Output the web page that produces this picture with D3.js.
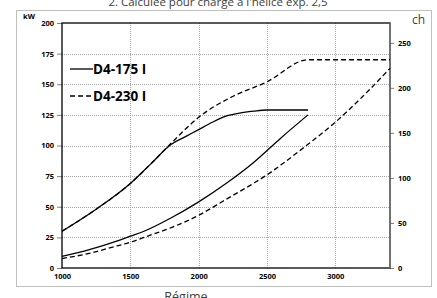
<!DOCTYPE html>
<html>
<head>
<meta charset="utf-8">
<script src="https://cdn.jsdelivr.net/npm/d3@7"></script>
<style>
body { margin: 0; background: #fff; }
svg { display: block; }
text { font-family: "Open Sans", sans-serif; }
</style>
</head>
<body>
<div id="chart"></div>
<script>
// values (rpm -> kW)
const seriesNames = ["D4-175 I", "D4-230 I"];

const maxRpm175 = [1000, 1250, 1500, 1650, 1800, 1900, 2000, 2100, 2200, 2300, 2400, 2500, 2600, 2800];
const maxKw175  = [30, 48, 69, 85, 101, 107, 113, 119, 124, 126.5, 128, 129, 129, 129];

const maxRpm230 = [1000, 1250, 1500, 1650, 1800, 1900, 2000, 2230, 2500, 2800, 3400];
const maxKw230  = [30, 48, 69, 85, 102, 113, 123, 139, 152, 170, 170];

const propRpm175 = [1000, 1200, 1400, 1500, 1600, 1800, 2000, 2200, 2400, 2600, 2800];
const propKw175  = [9.5, 15, 22, 26, 30, 41, 54, 69, 86, 106, 125];

const propRpm230 = [1000, 1200, 1400, 1500, 1600, 1800, 2000, 2200, 2400, 2500, 2600, 2800, 3000, 3200, 3400];
const propKw230  = [7.7, 12, 18, 21, 25, 33, 43, 56, 69, 76, 84, 101, 119, 140, 163];

const xTicks = [1000, 1500, 2000, 2500, 3000];
const kwTicks = [0, 25, 50, 75, 100, 125, 150, 175, 200];
const chTicks = [0, 50, 100, 150, 200, 250];

const W = 437, H = 298;
const margin = { top: 23, right: 47, bottom: 30, left: 62 };
const width = W - margin.left - margin.right,
      height = H - margin.top - margin.bottom;

const root = d3.select("#chart").append("svg")
  .attr("width", W).attr("height", H);

// chart area border
root.append("rect")
  .attr("x", 16.5).attr("y", 10.5)
  .attr("width", 415).attr("height", 276)
  .attr("fill", "none").attr("stroke", "#bfbfbf");

root.append("text")
  .attr("x", 218).attr("y", 6)
  .attr("text-anchor", "middle")
  .attr("font-size", 11.5).attr("fill", "#404040")
  .text("2. Calculée pour charge à l'hélice exp. 2,5");

const svg = root.append("g")
  .attr("transform", `translate(${margin.left},${margin.top})`);

const x = d3.scaleLinear().domain([1000, 3400]).range([0, width]);
const y = d3.scaleLinear().domain([0, 200]).range([height, 0]);
const yCh = d3.scaleLinear().domain([0, 272]).range([height, 0]);

// gridlines
svg.append("g").selectAll("line")
  .data(xTicks.slice(1))
  .enter().append("line")
  .attr("x1", d => Math.round(x(d)) + 0.5).attr("x2", d => Math.round(x(d)) + 0.5)
  .attr("y1", 0).attr("y2", height)
  .attr("stroke", "#a6a6a6").attr("stroke-dasharray", "1,1");

svg.append("g").selectAll("line")
  .data(kwTicks.slice(1, -1))
  .enter().append("line")
  .attr("x1", 0).attr("x2", width)
  .attr("y1", d => Math.round(y(d)) + 0.5).attr("y2", d => Math.round(y(d)) + 0.5)
  .attr("stroke", "#a6a6a6").attr("stroke-dasharray", "1,1");

// axes
const xAxis = svg.append("g")
  .attr("transform", `translate(0,${height})`)
  .call(d3.axisBottom(x).tickValues(xTicks).tickSize(0).tickPadding(6).tickFormat(d3.format("d")));
const yAxis = svg.append("g")
  .call(d3.axisLeft(y).tickValues(kwTicks).tickSize(5).tickPadding(3));
const yAxisR = svg.append("g")
  .attr("transform", `translate(${width},0)`)
  .call(d3.axisRight(yCh).tickValues(chTicks).tickSize(4).tickPadding(4));

[xAxis, yAxis, yAxisR].forEach(a => {
  a.select(".domain").remove();
  a.selectAll("text").attr("font-family", "Open Sans, sans-serif")
    .attr("font-size", 7.5).attr("font-weight", "bold").attr("fill", "#000");
  a.selectAll("line").attr("stroke", "#808080");
});

// plot frame
svg.append("rect")
  .attr("x", 0).attr("y", 0).attr("width", width).attr("height", height)
  .attr("fill", "none").attr("stroke", "#000").attr("stroke-width", 1.3);
svg.append("line")
  .attr("x1", width).attr("x2", width).attr("y1", 0).attr("y2", height)
  .attr("stroke", "#7f7f7f").attr("stroke-width", 1.3);

// curves
const line = d3.line()
  .x(d => x(d[0]))
  .y(d => y(d[1]))
  .curve(d3.curveMonotoneX);

const curves = [
  { rpm: maxRpm175, kw: maxKw175, dash: null },
  { rpm: propRpm175, kw: propKw175, dash: null },
  { rpm: maxRpm230, kw: maxKw230, dash: "5,3" },
  { rpm: propRpm230, kw: propKw230, dash: "5,3" }
];

curves.forEach(c => {
  svg.append("path")
    .attr("d", line(d3.zip(c.rpm, c.kw)))
    .attr("fill", "none")
    .attr("stroke", "#000")
    .attr("stroke-width", 1.3)
    .attr("stroke-dasharray", c.dash);
});

// legend
const legend = svg.append("g").attr("transform", "translate(8,46)");
seriesNames.forEach((name, i) => {
  const g = legend.append("g").attr("transform", `translate(0,${i * 27})`);
  g.append("line")
    .attr("x1", 0).attr("x2", 23).attr("y1", 0).attr("y2", 0)
    .attr("stroke", "#000").attr("stroke-width", 1.3)
    .attr("stroke-dasharray", i ? "5,3" : null);
  g.append("text")
    .attr("x", 23).attr("y", 0).attr("dy", "0.36em")
    .attr("font-size", 13.5).attr("font-weight", "bold")
    .text(name);
});

// axis titles
root.append("text")
  .attr("x", 23).attr("y", 19)
  .attr("font-size", 7.5).attr("font-weight", "bold")
  .text("kW");
root.append("text")
  .attr("x", 412).attr("y", 24)
  .attr("font-size", 12).attr("fill", "#404040")
  .text("ch");
root.append("text")
  .attr("x", 186).attr("y", 301)
  .attr("text-anchor", "middle")
  .attr("font-size", 12.5).attr("fill", "#404040")
  .text("Régime");
</script>
</body>
</html>
